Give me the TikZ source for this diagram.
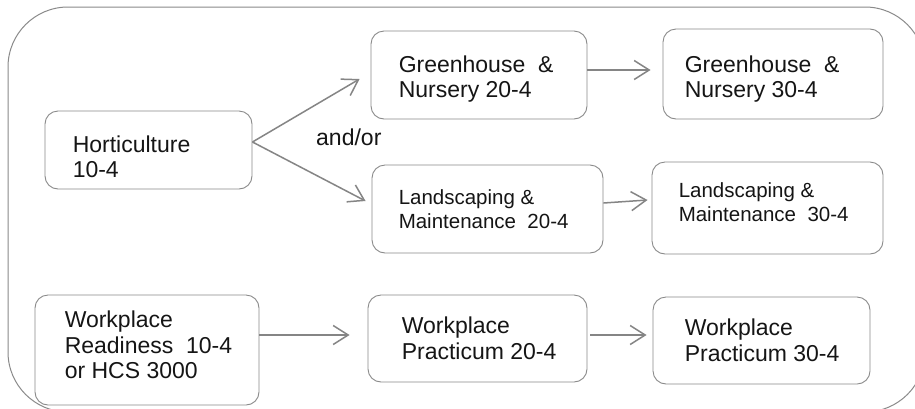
\documentclass[tikz,border=0pt]{standalone}
\usepackage{fontspec}
\setmainfont{Liberation Sans}
\usetikzlibrary{arrows.meta}
\definecolor{linegray}{HTML}{858585}
\definecolor{framegray}{HTML}{8A8A8A}
\definecolor{txt}{HTML}{151515}
\tikzset{
  box/.style={draw=framegray, line width=0.9pt, rounded corners=13pt, fill=white, inner sep=0pt},
  lbl/.style={anchor=west, align=left, inner sep=0pt, text=txt, font=\fontsize{23}{25.5}\selectfont},
  slbl/.style={anchor=west, align=left, inner sep=0pt, text=txt, font=\fontsize{20.5}{24.5}\selectfont},
  arr/.style={draw=linegray, line width=1.5pt, -{Straight Barb[length=15pt,width=19pt,line width=1.5pt]}},
}
\begin{document}
\begin{tikzpicture}[x=1pt,y=-1pt]
\useasboundingbox (0,0) rectangle (915,408);
\fill[white] (0,0) rectangle (915,408);
\begin{scope}
\clip (0,0) rectangle (915,408);
\draw[framegray, line width=1pt, rounded corners=60pt] (8,7) rectangle (925,412);
\end{scope}

% boxes
\node[box, minimum width=207pt, minimum height=78pt] (hort) at (148.5,150) {};
\node[box, minimum width=216pt, minimum height=88pt] (gn20) at (479,75) {};
\node[box, minimum width=220pt, minimum height=90pt] (gn30) at (773,74) {};
\node[box, minimum width=231pt, minimum height=88pt] (lm20) at (487.5,209) {};
\node[box, minimum width=231pt, minimum height=92pt] (lm30) at (767.5,208) {};
\node[box, minimum width=224pt, minimum height=110pt] (wr) at (147,350) {};
\node[box, minimum width=219pt, minimum height=87pt] (wp20) at (477.5,338.5) {};
\node[box, minimum width=217pt, minimum height=87pt] (wp30) at (761.5,340.5) {};

% texts
\node[lbl] (hort-t) at ([xshift=28pt,yshift=-7pt]hort.west) {Horticulture\\10-4};
\node[lbl] (gn20-t) at ([xshift=28pt,yshift=-4pt]gn20.west) {Greenhouse\ \ \&\\Nursery 20-4};
\node[lbl] (gn30-t) at ([xshift=22pt,yshift=-5pt]gn30.west) {Greenhouse\ \ \&\\Nursery 30-4};
\node[slbl] (lm20-t) at ([xshift=27pt,yshift=0pt]lm20.west) {Landscaping \&\\Maintenance\ \ 20-4};
\node[slbl] (lm30-t) at ([xshift=27pt,yshift=6pt]lm30.west) {Landscaping \&\\Maintenance\ \ 30-4};
\node[lbl] (wr-t) at ([xshift=30pt,yshift=5pt]wr.west) {Workplace\\Readiness\ \ 10-4\\or HCS 3000};
\node[lbl] (wp20-t) at ([xshift=34pt]wp20.west) {Workplace\\Practicum 20-4};
\node[lbl] (wp30-t) at ([xshift=32pt]wp30.west) {Workplace\\Practicum 30-4};
\node[anchor=base west, inner sep=0pt, text=txt, font=\fontsize{23}{25.5}\selectfont] (andor) at (316,145) {and/or};

% connectors
\draw[arr] ([yshift=8pt]hort.east) -- ([xshift=-11pt,yshift=-4pt]gn20.west);
\draw[arr] ([yshift=8pt]hort.east) -- ([xshift=-6pt,yshift=8pt]lm20.west);
\draw[arr] ([yshift=5pt]gn20.east) -- ([xshift=-12pt,yshift=4pt]gn30.west);
\draw[arr] ([yshift=6pt]lm20.east) -- ([xshift=-4pt,yshift=8pt]lm30.west);
\draw[arr] ([yshift=15pt]wr.east) -- ([xshift=-18pt,yshift=3.5pt]wp20.west);
\draw[arr] ([xshift=3pt,yshift=3.5pt]wp20.east) -- ([xshift=-6pt,yshift=5.5pt]wp30.west);
\end{tikzpicture}
\end{document}
